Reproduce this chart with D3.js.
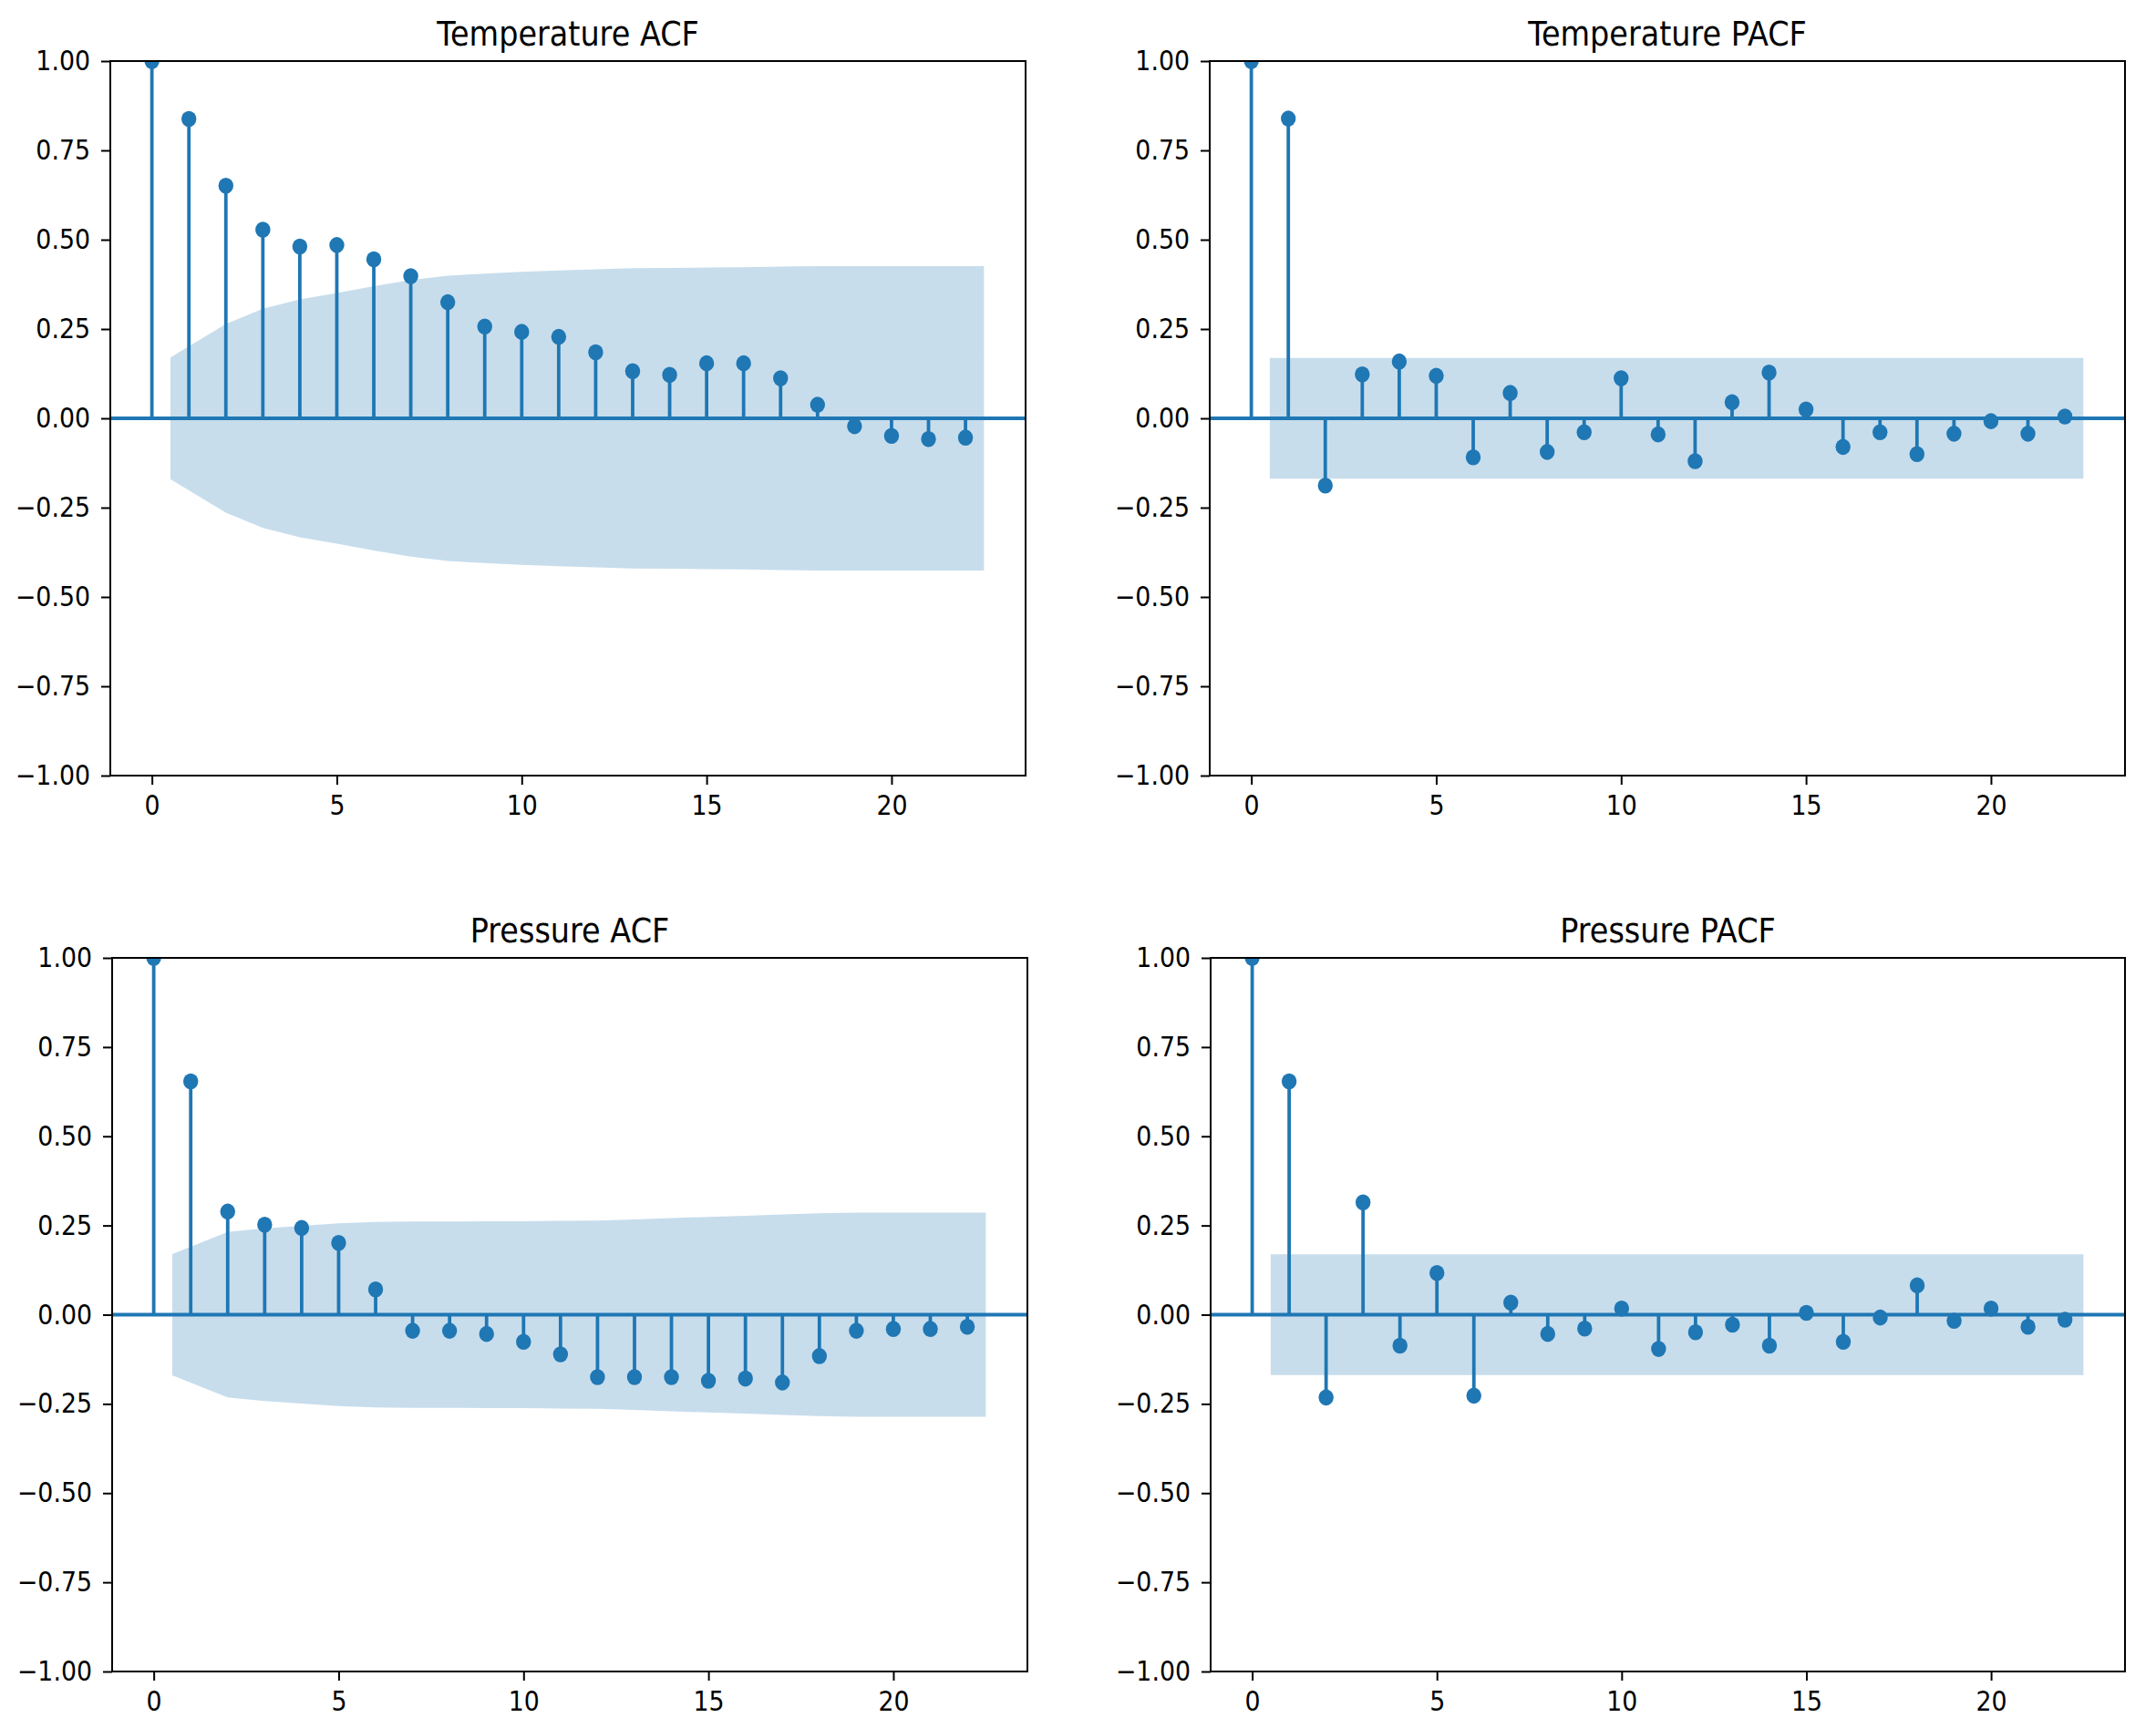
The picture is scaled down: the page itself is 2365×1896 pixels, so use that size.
<!DOCTYPE html>
<html>
<head>
<meta charset="utf-8">
<script src="https://cdn.jsdelivr.net/npm/d3@7"></script>
<style>
  body { margin: 0; background: #fff; }
  text { font-family: "DejaVu Sans", sans-serif; fill: #000; }
</style>
</head>
<body>
<svg id="acf-grid" width="2365" height="1896"></svg>
<script>
// lags shown on every panel
const lags = [0, 1, 2, 3, 4, 5, 6, 7, 8, 9, 10, 11, 12, 13, 14, 15, 16, 17, 18, 19, 20, 21, 22];

// Temperature
const tempAcf = [1.0, 0.838, 0.651, 0.528, 0.481, 0.485, 0.445, 0.398, 0.325, 0.257, 0.242, 0.228,
                 0.185, 0.132, 0.122, 0.154, 0.154, 0.112, 0.038, -0.022, -0.049, -0.058, -0.054];
// half width of the confidence band, lags 1..22
const tempAcfBand = [0.170, 0.264, 0.307, 0.333, 0.351, 0.370, 0.387, 0.399, 0.405, 0.410, 0.414,
                     0.417, 0.420, 0.421, 0.422, 0.423, 0.425, 0.426, 0.426, 0.426, 0.426, 0.426];
const tempPacf = [1.0, 0.839, -0.188, 0.123, 0.159, 0.119, -0.109, 0.071, -0.094, -0.039, 0.112, -0.045,
                  -0.120, 0.045, 0.128, 0.025, -0.080, -0.039, -0.100, -0.043, -0.008, -0.043, 0.005];
const tempPacfBand = 0.169;

// Pressure
const pressAcf = [1.0, 0.654, 0.289, 0.252, 0.243, 0.201, 0.071, -0.045, -0.045, -0.054, -0.076, -0.111,
                  -0.175, -0.175, -0.175, -0.185, -0.179, -0.190, -0.116, -0.045, -0.040, -0.040, -0.034];
const pressAcfBand = [0.170, 0.232, 0.242, 0.249, 0.256, 0.260, 0.261, 0.261, 0.262, 0.262, 0.263,
                      0.264, 0.267, 0.271, 0.274, 0.277, 0.281, 0.284, 0.286, 0.286, 0.286, 0.286];
const pressPacf = [1.0, 0.654, -0.232, 0.315, -0.087, 0.117, -0.227, 0.034, -0.054, -0.039, 0.017, -0.096,
                   -0.049, -0.028, -0.087, 0.005, -0.076, -0.008, 0.082, -0.017, 0.017, -0.034, -0.014];
const pressPacfBand = 0.169;

const xTicks = [0, 5, 10, 15, 20];
const yTicks = [-1, -0.75, -0.5, -0.25, 0, 0.25, 0.5, 0.75, 1];

const blue = "#1f77b4";
const textScaleY = 1.12;  // the reference glyphs are a little tall

const svg = d3.select("#acf-grid");
svg.append("rect").attr("width", 2365).attr("height", 1896).attr("fill", "#fff");

function drawPanel(id, title, values, band, box) {
    const width = box.right - box.left;
    const height = box.bottom - box.top;
    const g = svg.append("g")
        .attr("transform", `translate(${box.left}, ${box.top})`);

    const xScale = d3.scaleLinear().domain([-1.125, 23.625]).range([0, width]);
    const yScale = d3.scaleLinear().domain([-1, 1]).range([height, 0]);

    g.append("clipPath").attr("id", id)
        .append("rect").attr("width", width).attr("height", height);
    const plot = g.append("g").attr("clip-path", `url(#${id})`);

    // confidence band: edges pushed out half a lag like statsmodels does
    const bandLags = lags.slice(1);
    const bandPts = bandLags.map((l, k) => ({
        x: k === 0 ? l - 0.5 : (k === bandLags.length - 1 ? l + 0.5 : l),
        h: band[k]
    }));
    const area = d3.area()
        .x(d => xScale(d.x))
        .y0(d => yScale(-d.h))
        .y1(d => yScale(d.h));
    plot.append("path")
        .attr("d", area(bandPts))
        .attr("fill", blue)
        .attr("fill-opacity", 0.25);

    // stems
    plot.selectAll(".stem").data(values)
        .enter().append("line")
        .attr("class", "stem")
        .attr("x1", (d, k) => xScale(lags[k]))
        .attr("x2", (d, k) => xScale(lags[k]))
        .attr("y1", yScale(0))
        .attr("y2", d => yScale(d))
        .attr("stroke", blue)
        .attr("stroke-width", 3.8);

    // zero line
    plot.append("line")
        .attr("x1", 0).attr("x2", width)
        .attr("y1", yScale(0)).attr("y2", yScale(0))
        .attr("stroke", blue)
        .attr("stroke-width", 3.8);

    // markers
    plot.selectAll(".dot").data(values)
        .enter().append("ellipse")
        .attr("class", "dot")
        .attr("cx", (d, k) => xScale(lags[k]))
        .attr("cy", d => yScale(d))
        .attr("rx", 8.2)
        .attr("ry", 8.8)
        .attr("fill", blue);

    // y axis
    const yAxis = d3.axisLeft(yScale)
        .tickValues(yTicks)
        .tickSize(10)
        .tickPadding(12)
        .tickFormat(d3.format(".2f"));
    const yAxisG = g.append("g").call(yAxis);
    yAxisG.select(".domain").remove();
    yAxisG.selectAll("line").attr("stroke", "#000").attr("stroke-width", 2);
    yAxisG.selectAll("text")
        .attr("font-size", 26.8)
        .attr("font-family", "DejaVu Sans")
        .attr("transform", `scale(1, ${textScaleY})`);

    // x axis
    const xAxis = d3.axisBottom(xScale)
        .tickValues(xTicks)
        .tickSize(10)
        .tickFormat(d3.format("d"));
    const xAxisG = g.append("g").call(xAxis)
        .attr("transform", `translate(0, ${height})`);
    xAxisG.select(".domain").remove();
    xAxisG.selectAll("line").attr("stroke", "#000").attr("stroke-width", 2);
    xAxisG.selectAll("text")
        .attr("font-size", 26.8)
        .attr("font-family", "DejaVu Sans")
        .attr("y", 19)
        .attr("transform", `scale(1, ${textScaleY})`);

    // frame
    g.append("rect")
        .attr("width", width).attr("height", height)
        .attr("fill", "none")
        .attr("stroke", "#000")
        .attr("stroke-width", 2);

    // title
    g.append("text")
        .attr("transform", `translate(${width / 2}, -17) scale(1, ${textScaleY})`)
        .attr("text-anchor", "middle")
        .attr("font-size", 33.5)
        .text(title);
}

drawPanel("c1", "Temperature ACF", tempAcf, tempAcfBand,
    {left: 121, right: 1125, top: 67, bottom: 851});
drawPanel("c2", "Temperature PACF", tempPacf, lags.slice(1).map(() => tempPacfBand),
    {left: 1327, right: 2331, top: 67, bottom: 851});
drawPanel("c3", "Pressure ACF", pressAcf, pressAcfBand,
    {left: 123, right: 1127, top: 1051, bottom: 1834});
drawPanel("c4", "Pressure PACF", pressPacf, lags.slice(1).map(() => pressPacfBand),
    {left: 1328, right: 2331, top: 1051, bottom: 1834});
</script>
</body>
</html>
